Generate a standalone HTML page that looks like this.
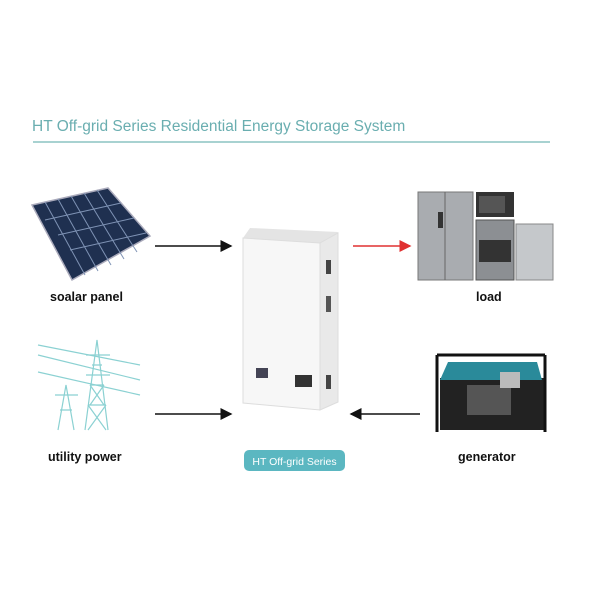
<!DOCTYPE html>
<html><head><style>
body{margin:0;background:#fff;}
svg{display:block;font-family:"Liberation Sans",sans-serif;}
</style></head><body>
<svg width="600" height="600" viewBox="0 0 600 600">
<defs>
<marker id="ab" markerWidth="8" markerHeight="8" refX="7" refY="4" orient="auto"><path d="M0,0 L8,4 L0,8 z" fill="#111"/></marker>
<marker id="ar" markerWidth="8" markerHeight="8" refX="7" refY="4" orient="auto"><path d="M0,0 L8,4 L0,8 z" fill="#e03030"/></marker>
</defs>
<text x="32" y="131" font-size="15.5" fill="#6aaeb0">HT Off-grid Series Residential Energy Storage System</text>
<line x1="33" y1="142" x2="550" y2="142" stroke="#8cc4c2" stroke-width="1.5"/>

<!-- solar panel -->
<g>
<polygon points="32,205 108,188 150,236 72,280" fill="#1f3050" stroke="#aab" stroke-width="1.5"/>
<g stroke="#7f93b5" stroke-width="1">
<line x1="45" y1="220" x2="121" y2="203"/><line x1="58" y1="235" x2="134" y2="218"/><line x1="70" y1="250" x2="146" y2="233"/>
<line x1="45" y1="248" x2="120" y2="230" opacity="0"/>
<line x1="45" y1="202" x2="85" y2="275"/><line x1="58" y1="199" x2="98" y2="271"/><line x1="71" y1="196" x2="111" y2="265"/><line x1="84" y1="193" x2="124" y2="259"/><line x1="97" y1="190" x2="137" y2="252"/>
</g>
</g>
<text x="50" y="301" font-size="12.5" font-weight="bold" fill="#111">soalar panel</text>

<!-- pylon -->
<g stroke="#6fc6c8" stroke-width="1.2" fill="none" opacity="0.8">
<line x1="38" y1="345" x2="140" y2="365"/><line x1="38" y1="355" x2="140" y2="380"/><line x1="38" y1="372" x2="140" y2="395"/>
<path d="M85,430 L97,340 L108,430 M88,405 L106,405 M90,385 L104,385 M92,365 L102,365 M86,355 L110,355 M86,375 L110,375"/>
<path d="M58,430 L66,385 L74,430 M60,410 L72,410 M55,395 L78,395"/>
<path d="M88,430 L106,405 M106,430 L88,405 M90,405 L104,385 M104,405 L90,385"/>
</g>
<text x="48" y="461" font-size="12.5" font-weight="bold" fill="#111">utility power</text>

<!-- arrows -->
<line x1="155" y1="246" x2="231" y2="246" stroke="#111" stroke-width="1.5" marker-end="url(#ab)"/>
<line x1="353" y1="246" x2="410" y2="246" stroke="#e03030" stroke-width="1.5" marker-end="url(#ar)"/>
<line x1="155" y1="414" x2="231" y2="414" stroke="#111" stroke-width="1.5" marker-end="url(#ab)"/>
<line x1="420" y1="414" x2="351" y2="414" stroke="#111" stroke-width="1.5" marker-end="url(#ab)"/>

<!-- device -->
<polygon points="243,238 250,228 338,232 330,244" fill="#e4e4e4"/>
<polygon points="243,238 320,243 320,410 243,403" fill="#f7f7f7" stroke="#ddd"/>
<polygon points="320,243 338,233 338,402 320,410" fill="#e9e9e9" stroke="#ddd"/>
<rect x="256" y="368" width="12" height="10" fill="#445"/>
<rect x="295" y="375" width="17" height="12" fill="#333"/>
<rect x="326" y="260" width="5" height="14" fill="#444"/>
<rect x="326" y="296" width="5" height="16" fill="#555"/>
<rect x="326" y="375" width="5" height="14" fill="#444"/>
<rect x="244" y="450" width="101" height="21" rx="5" fill="#5bb7c1"/>
<text x="294.5" y="465" font-size="10.5" fill="#fff" text-anchor="middle">HT Off-grid Series</text>

<!-- appliances -->
<rect x="418" y="192" width="55" height="88" fill="#a9acb0" stroke="#777"/>
<line x1="445" y1="192" x2="445" y2="280" stroke="#666"/>
<rect x="438" y="212" width="5" height="16" fill="#333"/>
<rect x="476" y="192" width="38" height="25" fill="#333"/>
<rect x="479" y="196" width="26" height="17" fill="#555"/>
<rect x="476" y="220" width="38" height="60" fill="#8c8f93" stroke="#555"/>
<rect x="479" y="240" width="32" height="22" fill="#333"/>
<rect x="516" y="224" width="37" height="56" fill="#c5c8cb" stroke="#888"/>
<text x="476" y="301" font-size="12.5" font-weight="bold" fill="#111">load</text>

<!-- generator -->
<rect x="440" y="378" width="104" height="52" fill="#222"/>
<path d="M448,362 L537,362 L542,380 L440,380 Z" fill="#2a8a9a"/>
<rect x="467" y="385" width="44" height="30" fill="#555"/>
<rect x="500" y="372" width="20" height="16" fill="#bbb"/>
<path d="M437,355 L437,432 M545,355 L545,432 M437,355 L545,355" stroke="#111" stroke-width="3" fill="none"/>
<text x="458" y="461" font-size="12.5" font-weight="bold" fill="#111">generator</text>
</svg>
</body></html>
